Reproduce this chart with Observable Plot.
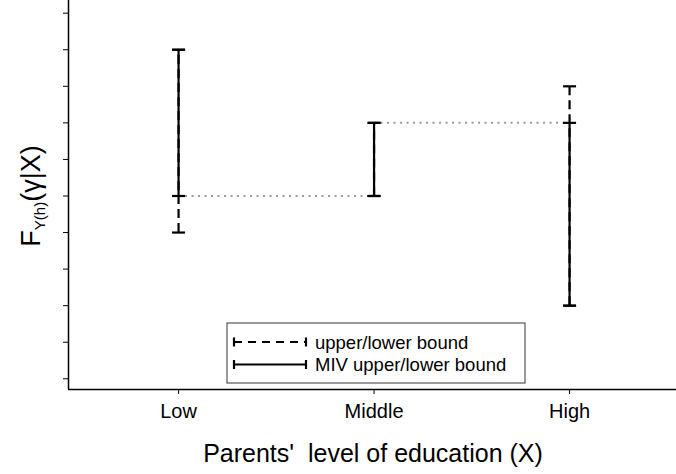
<!DOCTYPE html>
<html>
<head>
<meta charset="utf-8">
<script src="https://cdn.jsdelivr.net/npm/d3@7"></script>
<script src="https://cdn.jsdelivr.net/npm/@observablehq/plot@0.6"></script>
<style>
  html, body { margin: 0; padding: 0; background: #fff; }
  #chart { width: 676px; height: 474px; }
</style>
</head>
<body>
<div id="chart"></div>
<script>
// Bounds on F_Y(h)(γ|X) by parents' education, plain and MIV-tightened.
const levels = ["Low", "Middle", "High"];
const lowerBound = [4, 5, 2];
const upperBound = [9, 7, 8];
const mivLower = [5, 5, 2];
const mivUpper = [9, 7, 7];
// dotted monotone links between neighbouring levels
const linkFrom = ["Low", "Middle"];
const linkTo = ["Middle", "High"];
const linkValue = [5, 7];
const yTicks = [0, 1, 2, 3, 4, 5, 6, 7, 8, 9, 10];
const legendLabels = ["upper/lower bound", "MIV upper/lower bound"];
const xTitle = "Parents'  level of education (X)";

(function () {
  const font = "'Liberation Sans', Arial, Helvetica, sans-serif";
  const pos = (level) => levels.indexOf(level) + 1;

  const rows = levels.map((level, i) => ({
    pos: i + 1,
    level,
    lower: lowerBound[i],
    upper: upperBound[i],
    mivLower: mivLower[i],
    mivUpper: mivUpper[i]
  }));
  const links = linkFrom.map((f, i) => ({ x1: pos(f), x2: pos(linkTo[i]), y: linkValue[i] }));

  // flat horizontal cap, fixed pixel width
  const cap = { draw(ctx) { ctx.moveTo(-6.5, 0); ctx.lineTo(6.5, 0); } };
  const capDots = (key) =>
    Plot.dot(rows, { x: "pos", y: key, symbol: cap, stroke: "black", strokeWidth: 2.2, fill: "none" });

  const xDomain = [0.437, 3.547];
  const yDomain = [-0.293, 10.347];

  const fig = Plot.plot({
    width: 676,
    height: 474,
    marginLeft: 68,
    marginRight: 0,
    marginTop: 0,
    marginBottom: 85,
    style: { fontFamily: font, color: "black", background: "white", overflow: "visible" },
    x: { domain: xDomain },
    y: { domain: yDomain },
    marks: [
      Plot.axisY({ ticks: yTicks, tickSize: 5, tickFormat: () => "", label: null }),
      Plot.axisX({
        ticks: [1, 2, 3],
        tickFormat: (i) => levels[i - 1],
        tickSize: 5,
        tickPadding: 9,
        fontSize: 20,
        label: null
      }),
      Plot.ruleX([xDomain[0]], { stroke: "black", strokeWidth: 1.5 }),
      Plot.ruleY([yDomain[0]], { stroke: "black", strokeWidth: 1.5 }),
      Plot.link(links, {
        x1: "x1", x2: "x2", y1: "y", y2: "y",
        stroke: "#999", strokeWidth: 2, strokeDasharray: "2,4.5"
      }),
      Plot.ruleX(rows, { x: "pos", y1: "lower", y2: "upper", stroke: "black", strokeWidth: 2.2, strokeDasharray: "9,5" }),
      capDots("lower"),
      capDots("upper"),
      Plot.ruleX(rows, { x: "pos", y1: "mivLower", y2: "mivUpper", stroke: "black", strokeWidth: 2.2 }),
      capDots("mivLower"),
      capDots("mivUpper")
    ]
  });

  const svg = d3.select(fig);

  // y title with subscript
  const yt = svg.append("text")
    .attr("transform", "translate(40,196) rotate(-90)")
    .attr("text-anchor", "middle")
    .attr("font-family", font)
    .attr("font-size", 27)
    .attr("fill", "black");
  yt.append("tspan").text("F");
  yt.append("tspan").attr("font-size", 15).attr("dy", 5).text("Y(h)");
  yt.append("tspan").attr("dy", -5).text("(γ|X)");

  // x title
  svg.append("text")
    .attr("x", 373)
    .attr("y", 462)
    .attr("text-anchor", "middle")
    .attr("font-family", font)
    .attr("font-size", 25)
    .attr("fill", "black")
    .style("white-space", "pre")
    .text(xTitle);

  // legend box
  const lg = svg.append("g")
    .attr("font-family", font)
    .attr("font-size", 18.5)
    .attr("text-anchor", "start");
  lg.append("rect")
    .attr("x", 227).attr("y", 323).attr("width", 298).attr("height", 60)
    .attr("fill", "white").attr("stroke", "#555").attr("stroke-width", 1.2);
  const rowY = [342, 364.5];
  const dashes = ["8,6", null];
  legendLabels.forEach((label, i) => {
    const y = rowY[i];
    lg.append("line")
      .attr("x1", 234).attr("x2", 306).attr("y1", y).attr("y2", y)
      .attr("stroke", "black").attr("stroke-width", 2.2)
      .attr("stroke-dasharray", dashes[i]);
    for (const x of [234, 306]) {
      lg.append("line")
        .attr("x1", x).attr("x2", x).attr("y1", y - 4.5).attr("y2", y + 4.5)
        .attr("stroke", "black").attr("stroke-width", 2.2);
    }
    lg.append("text")
      .attr("x", 315).attr("y", y + 6.5)
      .attr("text-anchor", "start")
      .attr("fill", "black")
      .text(label);
  });

  document.getElementById("chart").replaceChildren(fig);
})();
</script>
</body>
</html>
